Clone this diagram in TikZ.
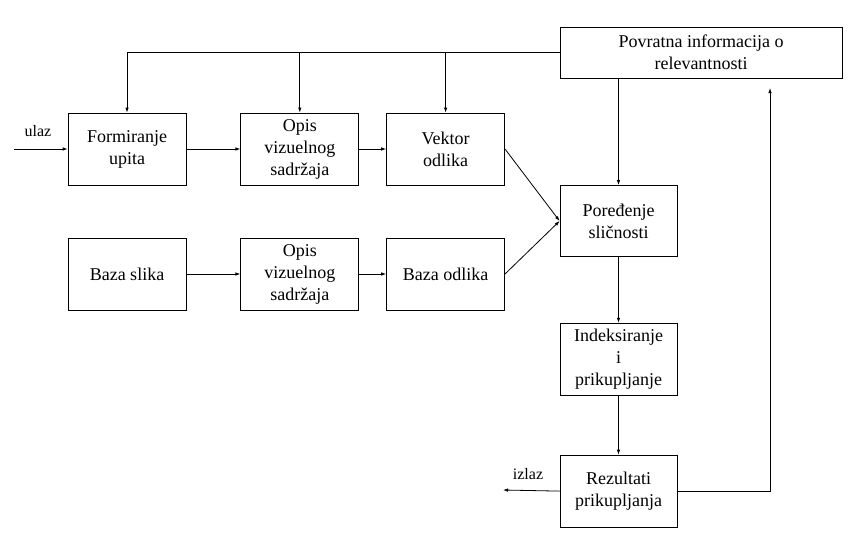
\documentclass[tikz,border=0pt]{standalone}
\usepackage{fontspec}
\setmainfont{Liberation Serif}
\usetikzlibrary{positioning,arrows.meta}

\begin{document}
\begin{tikzpicture}[x=1pt,y=-1pt,
    blok/.style={draw,line width=0.8pt,minimum width=118pt,minimum height=72pt,
        align=center,inner sep=2pt,font=\fontsize{18}{22}\selectfont},
    veza/.style={line width=0.8pt,-{Latex[length=5pt,width=3.5pt]}},
    oznaka/.style={font=\fontsize{16}{19}\selectfont}]
    \useasboundingbox (0,0) rectangle (851,558);
    % gornji red
    \node[blok] (formiranje) at (127,149) {Formiranje\\upita};
    \node[blok,right=54pt of formiranje] (opis1) {Opis\\vizuelnog\\sadržaja};
    \node[blok,right=27pt of opis1] (vektor) {Vektor\\odlika};
    % donji red
    \node[blok] (baza) at (127,274) {Baza slika};
    \node[blok,right=54pt of baza] (opis2) {Opis\\vizuelnog\\sadržaja};
    \node[blok,right=27pt of opis2] (odlike) {Baza odlika};
    % desna kolona
    \node[blok,minimum width=117pt,minimum height=71pt] (poredjenje) at (618.5,221) {Poređenje\\sličnosti};
    \node[blok,minimum width=282pt,minimum height=51pt] (povratna) at (701,52.5) {Povratna informacija o\\relevantnosti};
    \node[blok,minimum width=117pt,below=66pt of poredjenje] (indeks) {Indeksiranje\\i\\prikupljanje};
    \node[blok,minimum width=117pt,below=59pt of indeks] (rezultati) {Rezultati\\prikupljanja};
    % ulaz i izlaz
    \coordinate (ulaz) at (14,149);
    \coordinate (izlaz) at (503,490);
    \coordinate (nazad) at (770,88);
    \node[oznaka] (ulazT) at (38,131) {ulaz};
    \node[oznaka] (izlazT) at (528,474) {izlaz};
    \draw[veza] (ulaz) -- (formiranje);
    \draw[veza] (formiranje) -- (opis1);
    \draw[veza] (opis1) -- (vektor);
    \draw[veza] (baza) -- (opis2);
    \draw[veza] (opis2) -- (odlike);
    \draw[veza] (vektor.east) -- (poredjenje.west);
    \draw[veza] (odlike.east) -- (poredjenje.west);
    \draw[veza] (povratna.west) -| (formiranje.north);
    \draw[veza] (opis1.north |- povratna.west) -- (opis1.north);
    \draw[veza] (vektor.north |- povratna.west) -- (vektor.north);
    \draw[veza] (povratna.south -| poredjenje.north) -- (poredjenje.north);
    \draw[veza] (poredjenje) -- (indeks);
    \draw[veza] (indeks) -- (rezultati);
    \draw[veza] (rezultati.east) -| (nazad);
    \draw[veza] (rezultati.west) -- (izlaz);
\end{tikzpicture}
\end{document}
